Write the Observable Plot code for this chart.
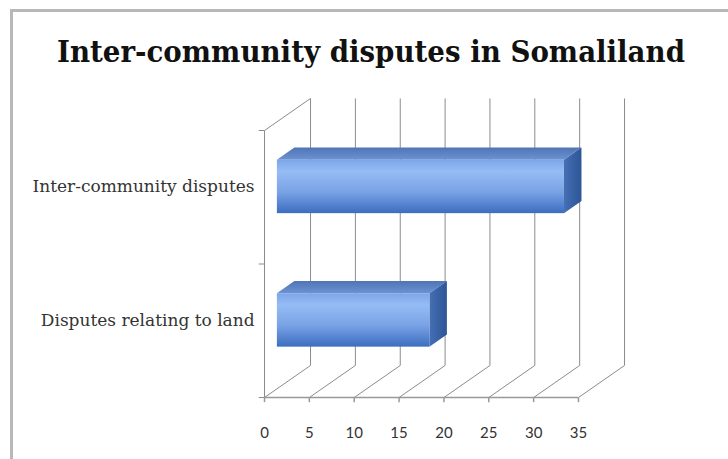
<!DOCTYPE html>
<html>
<head>
<meta charset="utf-8">
<script src="https://cdn.jsdelivr.net/npm/d3@7"></script>
<script src="https://cdn.jsdelivr.net/npm/@observablehq/plot@0.6"></script>
<style>
  html, body { margin: 0; padding: 0; background: #fff; }
  #wrap { position: relative; width: 728px; height: 459px; overflow: hidden; background: #fff; }
  #frame { position: absolute; left: 10px; top: 9px; width: 760px; height: 480px; border: 3px solid #b8b8b8; box-sizing: border-box; }
  #title { position: absolute; left: 57px; top: 32px; white-space: nowrap; transform-origin: 0 0;
           font-family: "DejaVu Serif", serif; font-weight: bold; font-size: 29px; color: #111; line-height: 40px; }
  #chart { position: absolute; left: 0; top: 80px; }
</style>
</head>
<body>
<div id="wrap">
  <div id="frame"></div>
  <div id="title">Inter-community disputes in Somaliland</div>
  <div id="chart"></div>
</div>
<script>
// ---- data ----
const categories = ["Disputes relating to land", "Inter-community disputes"];
const values = [17, 32];
const xTicks = [0, 5, 10, 15, 20, 25, 30, 35];
const catTicks = [0, 1, 2];

// ---- 3D geometry (in data units) ----
const DX = 5.13, DY = 0.24;         // depth of the box
const F1 = 0.28, F2 = 0.66;         // bar front/back depth fractions
const B0 = 0.31, B1 = 0.71;         // bar bottom/top within category slot
const TOP = 2;

const bars = categories.map((c, i) => ({cat: c, i, v: values[i]}));
const front = bars.map(b => ({x1: F1 * DX, x2: b.v + F1 * DX, y1: b.i + B0 + F1 * DY, y2: b.i + B1 + F1 * DY}));
const topFace = bars.flatMap(b => [
  {z: b.i, y: b.i + B1 + F1 * DY, x1: F1 * DX, x2: b.v + F1 * DX},
  {z: b.i, y: b.i + B1 + F2 * DY, x1: F2 * DX, x2: b.v + F2 * DX}
]);
const sideFace = bars.flatMap(b => [
  {z: b.i, x: b.v + F1 * DX, y1: b.i + B0 + F1 * DY, y2: b.i + B1 + F1 * DY},
  {z: b.i, x: b.v + F2 * DX, y1: b.i + B0 + F2 * DY, y2: b.i + B1 + F2 * DY}
]);

const gridColor = "#8c8c8c";

const chart = Plot.plot({
  width: 728,
  height: 379,
  margin: 0,
  x: {domain: [0, 35], range: [264, 578], axis: null},
  y: {domain: [0, 2], range: [317, 50], axis: null},
  marks: [
    Plot.link(xTicks, {x1: d => d, y1: 0, x2: d => d + DX, y2: DY, stroke: gridColor, strokeWidth: 1}),
    Plot.link(xTicks, {x1: d => d + DX, y1: DY, x2: d => d + DX, y2: TOP + DY, stroke: gridColor, strokeWidth: 1}),
    Plot.link([0], {x1: 0, y1: 0, x2: 0, y2: TOP, stroke: gridColor, strokeWidth: 1}),
    Plot.link([0], {x1: 0, y1: TOP, x2: DX, y2: TOP + DY, stroke: gridColor, strokeWidth: 1}),
    Plot.link(catTicks, {x1: -0.65, x2: 0, y1: d => d, y2: d => d, stroke: gridColor, strokeWidth: 1}),
    Plot.link([0], {x1: 0, y1: 0, x2: 35, y2: 0, stroke: "#999", strokeWidth: 1.5}),
    Plot.link(xTicks, {x1: d => d, x2: d => d, y1: 0, y2: -0.035, stroke: "#999", strokeWidth: 1.5}),
    Plot.areaX(topFace, {y: "y", x1: "x1", x2: "x2", z: "z", fill: "url(#gTop)", curve: "linear"}),
    Plot.areaY(sideFace, {x: "x", y1: "y1", y2: "y2", z: "z", fill: "url(#gSide)", curve: "linear"}),
    Plot.rect(front, {x1: "x1", x2: "x2", y1: "y1", y2: "y2", fill: "url(#gFront)"}),
    Plot.text(xTicks, {x: d => d, y: 0, dy: 36, text: d => String(d), fontSize: 15, fill: "#333", fontFamily: "Lato, sans-serif"}),
    Plot.text(bars, {x: 0, y: b => b.i + (B0 + B1) / 2 + F1 * DY, dx: -10, text: "cat", textAnchor: "end",
      fontSize: 16, fill: "#333", fontFamily: "DejaVu Serif, serif", className: "catlabel"})
  ]
});

const defs = d3.select(chart).insert("defs", ":first-child");
function grad(id, stops, vertical = true) {
  const g = defs.append("linearGradient").attr("id", id)
    .attr("x1", 0).attr("y1", 0).attr("x2", vertical ? 0 : 1).attr("y2", vertical ? 1 : 0);
  stops.forEach(([o, c]) => g.append("stop").attr("offset", o).attr("stop-color", c));
}
grad("gFront", [[0, "#7da6e8"], [0.22, "#96bcf4"], [0.6, "#7aa3e6"], [1, "#3c6dc0"]]);
grad("gTop", [[0, "#4f75b6"], [1, "#6c92d2"]]);
grad("gSide", [[0, "#4670b4"], [1, "#2c5597"]], false);

document.getElementById("chart").appendChild(chart);

// widen the category labels uniformly so the longest spans the reference width
const labels = d3.select(chart).selectAll("text").filter(function() { return this.textContent.length > 5; });
const lens = labels.nodes().map(n => n.getComputedTextLength());
const factor = 222 / d3.max(lens);
labels.each(function(_, i) {
  d3.select(this).attr("textLength", lens[i] * factor).attr("lengthAdjust", "spacingAndGlyphs");
});

// stretch the title to span the same width as in the reference
const t = document.getElementById("title");
const w = t.getBoundingClientRect().width;
t.style.transform = `scaleX(${628 / w})`;
</script>
</body>
</html>
